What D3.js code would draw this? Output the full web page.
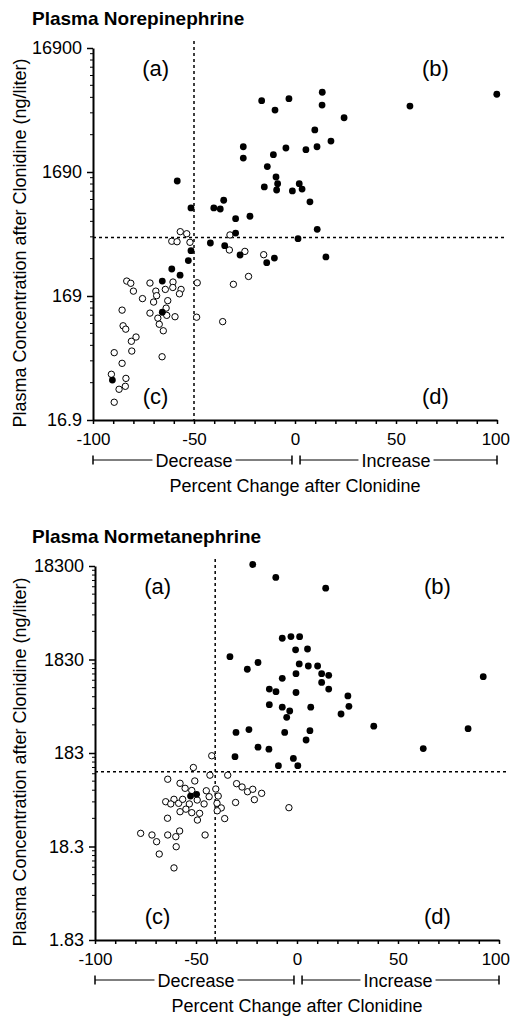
<!DOCTYPE html>
<html>
<head>
<meta charset="utf-8">
<script src="https://cdn.jsdelivr.net/npm/d3@7"></script>
<style>
  body { margin: 0; background: #fff; }
  svg { display: block; font-family: "Liberation Sans", Arial, sans-serif; }
</style>
</head>
<body>
<svg id="chart" width="512" height="1018"></svg>
<script>
const pctTicks = [-100, -50, 0, 50, 100];
const norepiTicks = [16.9, 169, 1690, 16900];
const normetTicks = [1.83, 18.3, 183, 1830, 18300];
const quadrantLabels = ["(a)", "(b)", "(c)", "(d)"];
const rangeLabels = ["Decrease", "Increase"];

// [percent change, concentration after clonidine]
const norepiFilled = [
    [-16.5, 6350], [-3.0, 6590], [13.5, 7430], [-9.9, 5340], [13.4, 5860], [9.8, 3690],
    [-25.6, 2700], [-4.5, 2640], [5.4, 2560], [10.9, 2700], [17.8, 3000], [-25.6, 2190],
    [-10.7, 2330], [-13.7, 1870], [-58.3, 1430], [-9.4, 1540], [-8.6, 1360], [-15.2, 1280],
    [-9.1, 1210], [2.1, 1360], [-1.3, 1190], [3.5, 1230], [7.4, 972], [-35.3, 1000],
    [-40.2, 867], [-37.0, 850], [-51.5, 867], [-22.3, 743], [-29.4, 710], [-29.4, 544],
    [11.0, 583], [1.5, 490], [-41.9, 452], [-34.8, 430], [-51.5, 392], [-27.2, 362],
    [-10.2, 342], [-14.0, 314], [15.3, 349], [-52.8, 326], [24.3, 4630], [56.9, 5750],
    [99.9, 7160], [-61.0, 279], [-56.9, 249], [-65.7, 223], [-65.7, 125], [-90.4, 35.5]
];
const norepiOpen = [
    [-56.8, 558], [-53.6, 537], [-61.0, 467], [-58.4, 463], [-52.0, 458], [-32.2, 525],
    [-32.5, 397], [-24.8, 387], [-15.5, 364], [-23.0, 243], [-30.5, 210], [-48.4, 216],
    [-48.7, 114], [-35.8, 105], [-83.3, 223], [-81.3, 214], [-80.0, 185], [-71.8, 215],
    [-75.5, 161], [-68.9, 185], [-68.5, 170], [-70.0, 151], [-64.2, 191], [-60.4, 219],
    [-60.5, 198], [-56.4, 191], [-57.2, 176], [-63.0, 155], [-63.8, 135], [-71.8, 123],
    [-67.9, 112], [-63.5, 118], [-59.4, 115], [-67.2, 100], [-65.2, 88.6], [-85.6, 130],
    [-85.1, 97.2], [-83.8, 91.3], [-78.7, 78.9], [-81.0, 72.9], [-80.8, 60.8], [-89.5, 59.0],
    [-65.8, 54.7], [-85.6, 48.4], [-90.9, 39.5], [-83.7, 36.6], [-87.1, 29.9], [-84.0, 31.6],
    [-89.5, 23.5]
];
const norepiCutoffs = [-50, 500];

const normetFilled = [
    [-21.9, 19000], [-10.5, 13800], [14.2, 10600], [-7.3, 3090], [-3.0, 3220], [1.3, 3210],
    [-0.7, 2320], [5.2, 2370], [-24.6, 1440], [-19.3, 1700], [1.1, 1640], [5.6, 1560],
    [10.2, 1560], [-7.3, 1150], [-0.5, 1290], [12.2, 1290], [15.7, 1240], [12.2, 1040],
    [15.7, 884], [-13.7, 884], [-10.4, 829], [-0.5, 812], [25.2, 746], [25.7, 577],
    [21.8, 478], [-13.7, 602], [-7.3, 565], [-3.6, 515], [-5.1, 441], [6.8, 565],
    [-23.8, 326], [-6.1, 304], [6.4, 317], [4.5, 252], [38.0, 354], [84.7, 333],
    [92.2, 1200], [-19.3, 211], [-13.9, 201], [62.5, 204], [-33.2, 1960], [-30.2, 304],
    [-30.7, 167], [-9.2, 134], [-1.8, 160], [0.4, 134], [-52.7, 63.4], [-49.7, 66.1]
];
const normetOpen = [
    [-42.2, 171], [-51.3, 128], [-43.1, 106], [-34.3, 106], [-64.0, 95.9], [-50.6, 91.9],
    [-57.9, 86.8], [-55.4, 76.7], [-52.1, 72.7], [-44.9, 72.2], [-40.2, 75.4], [-29.9, 86.0],
    [-27.2, 79.2], [-24.5, 70.5], [-21.9, 74.9], [-17.5, 67.8], [-21.1, 58.0], [-30.4, 54.1],
    [-4.0, 47.6], [-43.5, 62.4], [-39.0, 63.4], [-39.6, 53.0], [-37.5, 47.3], [-39.5, 44.1],
    [-35.8, 36.4], [-46.0, 52.2], [-49.4, 57.5], [-53.3, 52.2], [-55.0, 45.9], [-52.1, 42.1],
    [-57.9, 43.1], [-48.2, 41.4], [-49.3, 35.1], [-60.9, 58.5], [-65.0, 55.1], [-62.5, 52.2],
    [-58.6, 53.0], [-56.6, 58.5], [-64.1, 36.7], [-77.4, 25.3], [-71.8, 24.3], [-69.5, 20.6],
    [-68.2, 15.2], [-64.0, 24.3], [-60.0, 23.3], [-58.1, 26.8], [-59.8, 18.2], [-45.5, 24.3],
    [-60.9, 10.8]
];
const normetCutoffs = [-40.5, 115];

const svg = d3.select("#chart");

drawPanel(svg, {
    title: "Plasma Norepinephrine",
    ticks: norepiTicks, filled: norepiFilled, open: norepiOpen, cutoffs: norepiCutoffs,
    dims: {left: 93, right: 497, top: 48, bottom: 420}
});
drawPanel(svg, {
    title: "Plasma Normetanephrine",
    ticks: normetTicks, filled: normetFilled, open: normetOpen, cutoffs: normetCutoffs,
    dims: {left: 95, right: 499, top: 566, bottom: 940}
});

function drawPanel(svg, {title, ticks, filled, open, cutoffs, dims}) {
    const {left, right, top, bottom} = dims;
    const x = d3.scaleLinear().domain([-100, 100]).range([left, right]);
    const y = d3.scaleLog().domain([ticks[0], ticks[ticks.length - 1]]).range([bottom, top]);
    const g = svg.append("g");

    g.append("text")
        .attr("x", 32).attr("y", top - 23)
        .attr("font-size", 19).attr("font-weight", "bold")
        .text(title);

    // log minor ticks on the y axis
    const minor = [];
    ticks.slice(0, -1).forEach(t => { for (let k = 2; k < 10; k++) minor.push(t * k); });
    g.selectAll(".minor").data(minor).join("line")
        .attr("x1", left - 3).attr("x2", left)
        .attr("y1", d => y(d)).attr("y2", d => y(d))
        .attr("stroke", "#000").attr("stroke-width", 1);

    const yAxis = g.append("g")
        .attr("transform", "translate(" + left + ",0)")
        .call(d3.axisLeft(y).tickValues(ticks).tickFormat(d => String(d))
            .tickSize(6).tickSizeOuter(0).tickPadding(5));

    const xAxis = g.append("g")
        .attr("transform", "translate(0," + bottom + ")")
        .call(d3.axisBottom(x).tickValues(d3.range(-100, 101, 10))
            .tickFormat(d => pctTicks.includes(d) ? d : "")
            .tickSize(4).tickSizeOuter(0).tickPadding(9));

    [yAxis, xAxis].forEach(a => {
        a.select(".domain").attr("stroke-width", 2);
        a.selectAll(".tick line").attr("stroke-width", 1.5);
        a.selectAll("text").attr("fill", "#000")
            .attr("font-family", "Liberation Sans, Arial, sans-serif");
    });
    yAxis.selectAll("text").attr("font-size", 18);
    xAxis.selectAll("text").attr("font-size", 17);

    // keep the right-most tick label inside the page
    xAxis.selectAll(".tick text").each(function () {
        const b = this.getBoundingClientRect();
        if (b.right > 510) d3.select(this).attr("dx", 510 - b.right);
    });

    // cut-off lines
    g.append("line")
        .attr("x1", x(cutoffs[0])).attr("x2", x(cutoffs[0]))
        .attr("y1", top - 7).attr("y2", bottom)
        .attr("stroke", "#000").attr("stroke-width", 1.5).attr("stroke-dasharray", "3,3");
    g.append("line")
        .attr("x1", left).attr("x2", right + 10)
        .attr("y1", y(cutoffs[1])).attr("y2", y(cutoffs[1]))
        .attr("stroke", "#000").attr("stroke-width", 1.5).attr("stroke-dasharray", "3,3");

    g.selectAll(".open").data(open).join("circle")
        .attr("cx", d => x(d[0])).attr("cy", d => y(d[1])).attr("r", 3.2)
        .attr("fill", "#fff").attr("stroke", "#000").attr("stroke-width", 1);
    g.selectAll(".filled").data(filled).join("circle")
        .attr("cx", d => x(d[0])).attr("cy", d => y(d[1])).attr("r", 3.4)
        .attr("fill", "#000");

    // quadrant labels
    const quad = [[-69, top + 28], [69.5, top + 28], [-69, bottom - 16], [69.5, bottom - 16]];
    g.selectAll(".quad").data(quadrantLabels).join("text")
        .attr("x", (d, i) => x(quad[i][0])).attr("y", (d, i) => quad[i][1])
        .attr("text-anchor", "middle").attr("font-size", 22)
        .text(d => d);

    // Decrease / Increase brackets
    const by = bottom + 40;
    const spans = [[-100, -1.5, -50], [2.5, 100, 50]];
    spans.forEach(([a, b, c], i) => {
        const t = g.append("text")
            .attr("x", x(c)).attr("y", by + 7)
            .attr("text-anchor", "middle").attr("font-size", 18)
            .text(rangeLabels[i]);
        const half = t.node().getComputedTextLength() / 2 + 3;
        const segs = [[x(a), x(c) - half], [x(c) + half, x(b)]];
        segs.forEach(s => g.append("line")
            .attr("x1", s[0]).attr("x2", s[1]).attr("y1", by).attr("y2", by)
            .attr("stroke", "#000").attr("stroke-width", 1));
        [x(a), x(b)].forEach(e => g.append("line")
            .attr("x1", e).attr("x2", e).attr("y1", by - 4.5).attr("y2", by + 4.5)
            .attr("stroke", "#000").attr("stroke-width", 1.5));
    });

    g.append("text")
        .attr("x", (left + right) / 2).attr("y", bottom + 72)
        .attr("text-anchor", "middle").attr("font-size", 18)
        .text("Percent Change after Clonidine");

    g.append("text")
        .attr("transform", "translate(26," + ((top + bottom) / 2 + 9) + ") rotate(-90)")
        .attr("text-anchor", "middle").attr("font-size", 18)
        .text("Plasma Concentration after Clonidine (ng/liter)");
}
</script>
</body>
</html>
